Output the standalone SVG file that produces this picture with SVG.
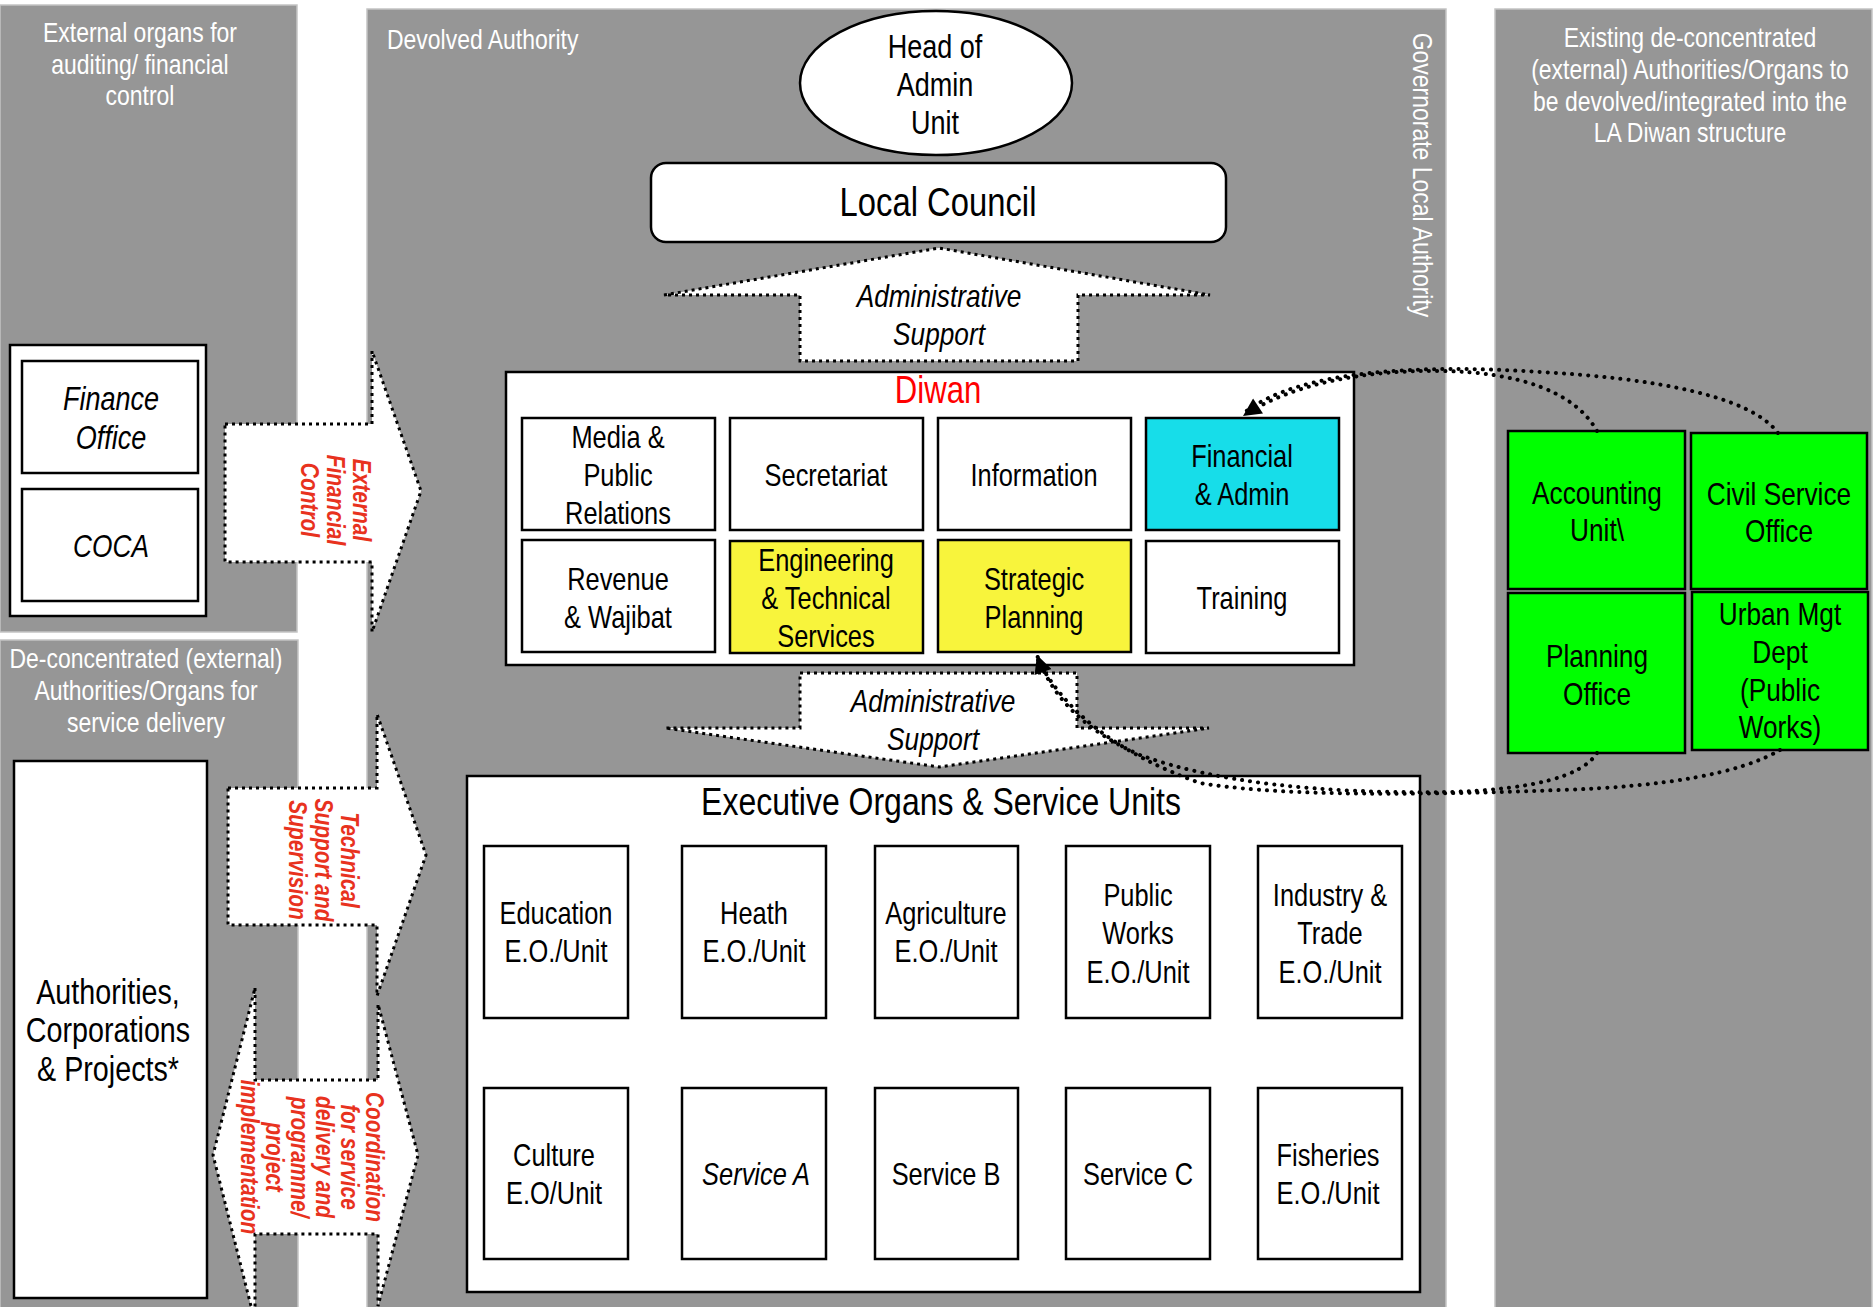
<svg xmlns="http://www.w3.org/2000/svg" width="1876" height="1307" viewBox="0 0 1876 1307">
<defs>
<style>
.panel{fill:#969696;stroke:#c4c4c4;stroke-width:1.5}
.box{fill:#fff;stroke:#000;stroke-width:2.5}
.cyan{fill:#17dde9}
.yellow{fill:#f8f43c}
.green{fill:#00ff00}
text{font-family:"Liberation Sans",Arial,sans-serif}
.c{text-anchor:middle}
.hdr{fill:#fff;font-size:28px}
.cell{fill:#000;font-size:31px}
.eo{fill:#000;font-size:31px}
.gr{fill:#000;font-size:32px}
.red{fill:#e8321e;font-size:25.5px;font-weight:bold;font-style:italic}
.arrowshape{fill:#fff;stroke:#000;stroke-width:3;stroke-dasharray:3 4}
.dots{fill:none;stroke:#000;stroke-width:4;stroke-linecap:round;stroke-dasharray:0.1 8}
</style>
<marker id="ah" viewBox="0 0 10 10" refX="10" refY="5" markerWidth="20" markerHeight="18" markerUnits="userSpaceOnUse" orient="auto">
<path d="M0,0 L10,5 L0,10 z" fill="#000"/>
</marker>
</defs>
<rect width="1876" height="1307" fill="#fff"/>

<g id="panels">
<rect class="panel" x="0" y="5" width="297" height="627"/>
<rect class="panel" x="0" y="640" width="298" height="670"/>
<rect class="panel" x="367" y="9" width="1079" height="1300"/>
<rect class="panel" x="1495" y="9" width="377" height="1300"/>
</g>

<g id="panel-labels">
<text class="c hdr" transform="translate(140,0) scale(0.82,1)" x="0" y="42">External organs for<tspan x="0" y="74">auditing/ financial</tspan><tspan x="0" y="105">control</tspan></text>
<text class="hdr" transform="translate(387,0) scale(0.82,1)" x="0" y="49">Devolved Authority</text>
<text class="c hdr" transform="translate(1423,175) rotate(90) scale(0.82,1)" x="0" y="0" dominant-baseline="central">Governorate Local Authority</text>
<text class="c hdr" transform="translate(1690,0) scale(0.82,1)" x="0" y="47">Existing de-concentrated<tspan x="0" y="79">(external) Authorities/Organs to</tspan><tspan x="0" y="111">be devolved/integrated into the</tspan><tspan x="0" y="142">LA Diwan structure</tspan></text>
<text class="c hdr" transform="translate(146,0) scale(0.82,1)" x="0" y="668">De-concentrated (external)<tspan x="0" y="700">Authorities/Organs for</tspan><tspan x="0" y="732">service delivery</tspan></text>
</g>

<g id="ext-finance">
<rect class="box" x="10" y="345" width="196" height="271"/>
<g id="finance-office">
<rect class="box" x="22" y="361" width="176" height="112"/>
<text class="c" transform="translate(111,0) scale(0.82,1)" x="0" y="410" font-size="33" font-style="italic">Finance<tspan x="0" y="449">Office</tspan></text>
</g>
<g id="coca">
<rect class="box" x="22" y="489" width="176" height="112"/>
<text class="c" transform="translate(111,0) scale(0.82,1)" x="0" y="557" font-size="32" font-style="italic">COCA</text>
</g>
</g>

<g id="authorities">
<rect class="box" x="14" y="761" width="193" height="537"/>
<text class="c" transform="translate(108,0) scale(0.82,1)" x="0" y="1004" font-size="35">Authorities,<tspan x="0" y="1042">Corporations</tspan><tspan x="0" y="1081">&amp; Projects*</tspan></text>
</g>

<g id="head-admin">
<ellipse cx="936" cy="83" rx="136" ry="72" fill="#fff" stroke="#000" stroke-width="2.5"/>
<text class="c" transform="translate(935,0) scale(0.82,1)" x="0" y="58" font-size="33">Head of<tspan x="0" y="96">Admin</tspan><tspan x="0" y="134">Unit</tspan></text>
</g>

<g id="local-council">
<rect class="box" x="651" y="163" width="575" height="79" rx="15"/>
<text class="c" transform="translate(938,0) scale(0.82,1)" x="0" y="216" font-size="40">Local Council</text>
</g>

<g id="diwan">
<rect class="box" x="506" y="372" width="848" height="293"/>
<text class="c" transform="translate(938,0) scale(0.82,1)" x="0" y="403" font-size="38" fill="#ff0000">Diwan</text>
<g id="media"><rect class="box" x="522" y="418" width="193" height="112"/>
<text class="c cell" transform="translate(618,0) scale(0.82,1)" x="0" y="448">Media &amp;<tspan x="0" y="486">Public</tspan><tspan x="0" y="524">Relations</tspan></text></g>
<g id="secretariat"><rect class="box" x="730" y="418" width="193" height="112"/>
<text class="c cell" transform="translate(826,0) scale(0.82,1)" x="0" y="486">Secretariat</text></g>
<g id="information"><rect class="box" x="938" y="418" width="193" height="112"/>
<text class="c cell" transform="translate(1034,0) scale(0.82,1)" x="0" y="486">Information</text></g>
<g id="financial-admin"><rect class="box cyan" x="1146" y="418" width="193" height="112"/>
<text class="c cell" transform="translate(1242,0) scale(0.82,1)" x="0" y="467">Financial<tspan x="0" y="505">&amp; Admin</tspan></text></g>
<g id="revenue"><rect class="box" x="522" y="540" width="193" height="112"/>
<text class="c cell" transform="translate(618,0) scale(0.82,1)" x="0" y="590">Revenue<tspan x="0" y="628">&amp; Wajibat</tspan></text></g>
<g id="engineering"><rect class="box yellow" x="730" y="541" width="193" height="112"/>
<text class="c cell" transform="translate(826,0) scale(0.82,1)" x="0" y="571">Engineering<tspan x="0" y="609">&amp; Technical</tspan><tspan x="0" y="647">Services</tspan></text></g>
<g id="strategic"><rect class="box yellow" x="938" y="540" width="193" height="112"/>
<text class="c cell" transform="translate(1034,0) scale(0.82,1)" x="0" y="590">Strategic<tspan x="0" y="628">Planning</tspan></text></g>
<g id="training"><rect class="box" x="1146" y="541" width="193" height="112"/>
<text class="c cell" transform="translate(1242,0) scale(0.82,1)" x="0" y="609">Training</text></g>
</g>

<g id="green-units">
<g id="accounting"><rect class="box green" x="1508" y="431" width="177" height="158"/>
<text class="c gr" transform="translate(1597,0) scale(0.82,1)" x="0" y="504">Accounting<tspan x="0" y="541">Unit\</tspan></text></g>
<g id="civil-service"><rect class="box green" x="1691" y="433" width="176" height="156"/>
<text class="c gr" transform="translate(1779,0) scale(0.82,1)" x="0" y="505">Civil Service<tspan x="0" y="542">Office</tspan></text></g>
<g id="planning-office"><rect class="box green" x="1508" y="593" width="177" height="160"/>
<text class="c gr" transform="translate(1597,0) scale(0.82,1)" x="0" y="667">Planning<tspan x="0" y="705">Office</tspan></text></g>
<g id="urban-mgt"><rect class="box green" x="1692" y="592" width="176" height="158"/>
<text class="c gr" transform="translate(1780,0) scale(0.82,1)" x="0" y="625">Urban Mgt<tspan x="0" y="663">Dept</tspan><tspan x="0" y="701">(Public</tspan><tspan x="0" y="738">Works)</tspan></text></g>
</g>

<g id="executive">
<rect class="box" x="467" y="776" width="953" height="516"/>
<text class="c" transform="translate(941,0) scale(0.82,1)" x="0" y="815" font-size="39">Executive Organs &amp; Service Units</text>
<g id="education"><rect class="box" x="484" y="846" width="144" height="172"/>
<text class="c eo" transform="translate(556,0) scale(0.82,1)" x="0" y="924">Education<tspan x="0" y="962">E.O./Unit</tspan></text></g>
<g id="heath"><rect class="box" x="682" y="846" width="144" height="172"/>
<text class="c eo" transform="translate(754,0) scale(0.82,1)" x="0" y="924">Heath<tspan x="0" y="962">E.O./Unit</tspan></text></g>
<g id="agriculture"><rect class="box" x="875" y="846" width="143" height="172"/>
<text class="c eo" transform="translate(946,0) scale(0.82,1)" x="0" y="924">Agriculture<tspan x="0" y="962">E.O./Unit</tspan></text></g>
<g id="public-works"><rect class="box" x="1066" y="846" width="144" height="172"/>
<text class="c eo" transform="translate(1138,0) scale(0.82,1)" x="0" y="906">Public<tspan x="0" y="944">Works</tspan><tspan x="0" y="983">E.O./Unit</tspan></text></g>
<g id="industry"><rect class="box" x="1258" y="846" width="144" height="172"/>
<text class="c eo" transform="translate(1330,0) scale(0.82,1)" x="0" y="906">Industry &amp;<tspan x="0" y="944">Trade</tspan><tspan x="0" y="983">E.O./Unit</tspan></text></g>
<g id="culture"><rect class="box" x="484" y="1088" width="144" height="171"/>
<text class="c eo" transform="translate(554,0) scale(0.82,1)" x="0" y="1166">Culture<tspan x="0" y="1204">E.O/Unit</tspan></text></g>
<g id="service-a"><rect class="box" x="682" y="1088" width="144" height="171"/>
<text class="c eo" transform="translate(756,0) scale(0.82,1)" x="0" y="1185" font-style="italic">Service A</text></g>
<g id="service-b"><rect class="box" x="875" y="1088" width="143" height="171"/>
<text class="c eo" transform="translate(946,0) scale(0.82,1)" x="0" y="1185">Service B</text></g>
<g id="service-c"><rect class="box" x="1066" y="1088" width="144" height="171"/>
<text class="c eo" transform="translate(1138,0) scale(0.82,1)" x="0" y="1185">Service C</text></g>
<g id="fisheries"><rect class="box" x="1258" y="1088" width="144" height="171"/>
<text class="c eo" transform="translate(1328,0) scale(0.82,1)" x="0" y="1166">Fisheries<tspan x="0" y="1204">E.O./Unit</tspan></text></g>
</g>

<g id="connectors">
<g id="admin-support-up">
<polygon class="arrowshape" points="664,295 939,248 1210,295 1078,295 1078,361 800,361 800,295"/>
<text class="c" transform="translate(939,0) scale(0.82,1)" x="0" y="307" font-size="32" font-style="italic">Administrative<tspan x="0" y="345">Support</tspan></text>
</g>
<g id="admin-support-down">
<polygon class="arrowshape" points="800,673 1077,673 1077,728 1209,728 939,767 665,728 800,728"/>
<text class="c" transform="translate(933,0) scale(0.82,1)" x="0" y="712" font-size="32" font-style="italic">Administrative<tspan x="0" y="750">Support</tspan></text>
</g>
<g id="external-financial-control">
<polygon class="arrowshape" points="225,424 372,424 372,351 421,491 372,632 372,562 225,562"/>
<text class="c red" transform="translate(336,500) rotate(90) scale(0.82,1)" dominant-baseline="central"><tspan x="0" y="-26">External</tspan><tspan x="0" y="0">Financial</tspan><tspan x="0" y="26">Control</tspan></text>
</g>
<g id="technical-support">
<polygon class="arrowshape" points="228,788 377,788 377,714 426,855 377,996 377,925 228,925"/>
<text class="c red" transform="translate(324,860) rotate(90) scale(0.82,1)" dominant-baseline="central"><tspan x="0" y="-26">Technical</tspan><tspan x="0" y="0">Support and</tspan><tspan x="0" y="26">Supervision</tspan></text>
</g>
<g id="coordination">
<polygon class="arrowshape" points="255,988 255,1080 378,1080 378,1004 418,1155 378,1306 378,1234 255,1234 255,1322 213,1155"/>
<text class="c red" transform="translate(312.5,1157) rotate(90) scale(0.82,1)" dominant-baseline="central"><tspan x="0" y="-62.5">Coordination</tspan><tspan x="0" y="-37.5">for service</tspan><tspan x="0" y="-12.5">delivery and</tspan><tspan x="0" y="12.5">programme/</tspan><tspan x="0" y="37.5">project</tspan><tspan x="0" y="62.5">implementation</tspan></text>
</g>
<path id="accounting-to-financial" class="dots" d="M1597,431 C1575,392 1520,372 1440,371 C1360,370 1290,385 1243,416" marker-end="url(#ah)"/>
<path id="civil-to-financial" class="dots" d="M1778,433 C1750,395 1650,378 1540,372 C1420,364 1300,370 1245,412"/>
<path id="planning-to-strategic" class="dots" d="M1597,753 Q1575,788 1450,792 Q1250,795 1140,755 Q1060,720 1037,655" marker-end="url(#ah)"/>
<path id="urban-to-strategic" class="dots" d="M1780,750 Q1720,785 1560,790 Q1300,800 1200,783 Q1080,740 1038,660"/>
</g>
</svg>
